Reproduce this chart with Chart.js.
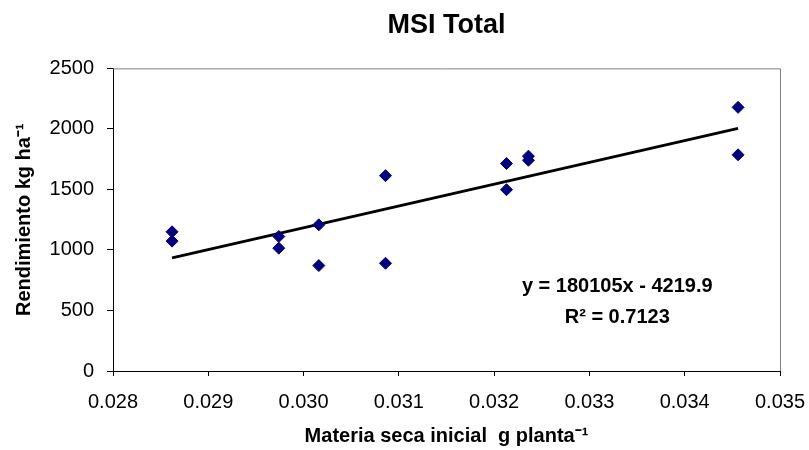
<!DOCTYPE html>
<html>
<head>
<meta charset="utf-8">
<script src="https://cdn.jsdelivr.net/npm/chart.js@4/dist/chart.umd.min.js"></script>
<style>
  html, body { margin: 0; padding: 0; background: #ffffff; }
  #wrap { width: 809px; height: 450px; position: relative; }
</style>
</head>
<body>
<div id="wrap"><canvas id="c" width="809" height="450"></canvas></div>
<script>
// ---- data ----
const xValues = [0.02862, 0.02862, 0.02974, 0.02974, 0.03016, 0.03016, 0.03086, 0.03086, 0.03213, 0.03213, 0.03236, 0.03236, 0.03456, 0.03456];
const yValues = [1150, 1073, 1111, 1015, 1208, 871, 1614, 890, 1714, 1498, 1775, 1741, 2178, 1786];
const trendSlope = 180105;
const trendIntercept = -4219.9;
const equationLines = ["y = 180105x - 4219.9", "R\u00B2 = 0.7123"];
const chartTitle = "MSI Total";
const xAxisTitle = "Materia seca inicial  g planta\u207B\u00B9";
const yAxisTitle = "Rendimiento kg ha\u207B\u00B9";
const xTicks = [0.028, 0.029, 0.030, 0.031, 0.032, 0.033, 0.034, 0.035];
const yTicks = [0, 500, 1000, 1500, 2000, 2500];

const FONT = "'Liberation Sans', Arial, Helvetica, sans-serif";
const points = xValues.map((x, i) => ({ x: x, y: yValues[i] }));
const xMinData = Math.min(...xValues), xMaxData = Math.max(...xValues);
const trendPoints = [
  { x: xMinData, y: trendSlope * xMinData + trendIntercept },
  { x: xMaxData, y: trendSlope * xMaxData + trendIntercept }
];

const framePlugin = {
  id: 'frame',
  afterDraw(chart) {
    const { ctx, chartArea: a } = chart;
    ctx.save();
    ctx.strokeStyle = '#808080';
    ctx.lineWidth = 1;
    ctx.beginPath();
    ctx.moveTo(a.left, a.top + 0.5);
    ctx.lineTo(a.right + 0.5, a.top + 0.5);
    ctx.lineTo(a.right + 0.5, a.bottom);
    ctx.stroke();
    // equation text
    ctx.fillStyle = '#000000';
    ctx.font = 'bold 20px ' + FONT;
    ctx.textAlign = 'center';
    ctx.textBaseline = 'middle';
    const cx = a.left + (a.right - a.left) * 0.756;
    const cy1 = a.top + (a.bottom - a.top) * 0.72;
    const cy2 = a.top + (a.bottom - a.top) * 0.823;
    ctx.fillText(equationLines[0], cx, cy1);
    ctx.fillText(equationLines[1], cx, cy2);
    ctx.restore();
  }
};

new Chart(document.getElementById('c'), {
  type: 'scatter',
  data: {
    datasets: [
      {
        type: 'line',
        data: trendPoints,
        borderColor: '#000000',
        borderWidth: 3,
        pointRadius: 0,
        fill: false,
        order: 2
      },
      {
        data: points,
        pointStyle: 'rectRot',
        pointRadius: 6,
        pointHoverRadius: 6,
        backgroundColor: '#000080',
        borderColor: '#000080',
        borderWidth: 1,
        order: 1
      }
    ]
  },
  options: {
    responsive: false,
    animation: false,
    devicePixelRatio: 1,
    layout: { padding: { left: 0, right: 29, top: 0, bottom: 0 } },
    plugins: {
      legend: { display: false },
      tooltip: { enabled: false },
      title: {
        display: true,
        text: chartTitle,
        fullSize: false,
        color: '#000000',
        font: { family: FONT, size: 27, weight: 'bold', lineHeight: 1.2 },
        padding: { top: 9, bottom: 27 }
      }
    },
    scales: {
      x: {
        type: 'linear',
        min: xTicks[0],
        max: xTicks[xTicks.length - 1],
        afterBuildTicks(scale) { scale.ticks = xTicks.map(v => ({ value: v })); },
        afterFit(scale) { scale.height = 79; scale.paddingLeft = 0; scale.paddingRight = 0; },
        grid: { drawOnChartArea: false, drawTicks: true, tickLength: 5, color: '#000000' },
        border: { color: '#000000', width: 1 },
        ticks: {
          color: '#000000',
          font: { family: FONT, size: 20 },
          padding: 14,
          maxRotation: 0,
          callback: v => Number(v).toFixed(3)
        },
        title: {
          display: true,
          text: xAxisTitle,
          color: '#000000',
          font: { family: FONT, size: 20, weight: 'bold', lineHeight: 1.2 },
          padding: { top: 0, bottom: 2 }
        }
      },
      y: {
        type: 'linear',
        min: yTicks[0],
        max: yTicks[yTicks.length - 1],
        afterBuildTicks(scale) { scale.ticks = yTicks.map(v => ({ value: v })); },
        afterFit(scale) { scale.width = 113; scale.paddingTop = 0; scale.paddingBottom = 0; },
        grid: { drawOnChartArea: false, drawTicks: true, tickLength: 6, color: '#000000' },
        border: { color: '#000000', width: 1 },
        ticks: {
          color: '#000000',
          font: { family: FONT, size: 20 },
          padding: 13,
          callback: v => String(v)
        },
        title: {
          display: true,
          text: yAxisTitle,
          color: '#000000',
          font: { family: FONT, size: 20, weight: 'bold', lineHeight: 1.2 },
          padding: { top: 12, bottom: 0 }
        }
      }
    }
  },
  plugins: [framePlugin]
});
</script>
</body>
</html>
